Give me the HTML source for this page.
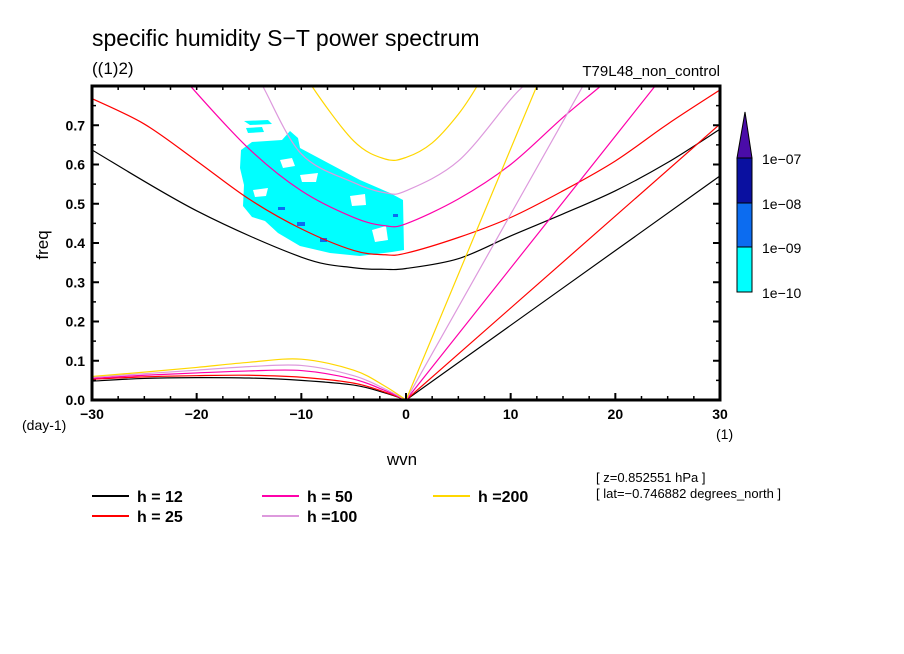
<!DOCTYPE html>
<html><head><meta charset="utf-8"><style>
html,body{margin:0;padding:0;background:#fff;}
svg{display:block;font-family:"Liberation Sans",sans-serif;}
</style></head><body>
<svg id="chart" width="904" height="654" viewBox="0 0 904 654">
<text x="92" y="46" font-size="23">specific humidity S−T power spectrum</text>
<text x="92" y="74" font-size="17">((1)2)</text>
<text x="720" y="76" font-size="15" text-anchor="end">T79L48_non_control</text>
<defs><clipPath id="pc"><rect x="92" y="86" width="628" height="314"/></clipPath></defs>
<g id="blobs" clip-path="url(#pc)">
 <polygon fill="#00ffff" points="244,121 268,120 272,124 250,125"/>
 <polygon fill="#00ffff" points="246,128 262,127 264,132 248,133"/>
 <polygon fill="#00ffff" points="241,150 252,142 282,140 290,131 298,138 300,148 330,164 360,180 390,193 403,200 404,250 392,252 360,256 330,253 300,246 278,233 265,221 252,217 243,206 244,185 240,168"/>
 <polygon fill="#fff" points="280,160 292,158 295,166 283,168"/>
 <polygon fill="#fff" points="300,175 318,173 316,182 302,182"/>
 <polygon fill="#fff" points="350,196 365,194 366,205 352,206"/>
 <polygon fill="#fff" points="253,190 268,188 266,196 255,197"/>
 <polygon fill="#fff" points="372,230 386,226 388,240 375,242"/>
 <rect x="278" y="207" width="7" height="3" fill="#0c6cf0"/>
 <rect x="297" y="222" width="8" height="4" fill="#0c6cf0"/>
 <rect x="320" y="238" width="7" height="4" fill="#0c6cf0"/>
 <rect x="393" y="214" width="5" height="3" fill="#0c6cf0"/>
</g>
<g id="curves" clip-path="url(#pc)"></g>
<g id="axes"></g>
<g id="colorbar">
 <rect x="737" y="247" width="15" height="45" fill="#00ffff" stroke="#000"/>
 <rect x="737" y="203" width="15" height="44" fill="#0c6cf0" stroke="#000"/>
 <rect x="737" y="158" width="15" height="45" fill="#0a10a0" stroke="#000"/>
 <polygon points="737,158 752,158 745,112" fill="#4a0ca8" stroke="#000"/>
 <text x="762" y="164" font-size="14">1e−07</text>
 <text x="762" y="209" font-size="14">1e−08</text>
 <text x="762" y="253" font-size="14">1e−09</text>
 <text x="762" y="298" font-size="14">1e−10</text>
</g>
<text x="22" y="430" font-size="14">(day-1)</text>
<text x="716" y="439" font-size="14">(1)</text>
<text x="402" y="465" font-size="17" text-anchor="middle">wvn</text>
<text transform="translate(48,245) rotate(-90)" font-size="17" text-anchor="middle">freq</text>
<text x="596" y="482" font-size="13">[ z=0.852551 hPa ]</text>
<text x="596" y="498" font-size="13">[ lat=−0.746882 degrees_north ]</text>
<g id="legend"></g>
</svg>
<script>
const X0=92,X1=720,Y0=400,YT=86;
function sx(w){return X0+(w+30)/60*(X1-X0);}
function sy(f){return Y0-f/0.8*(Y0-YT);}
const labels=["h = 12","h = 25","h = 50","h =100","h =200"];
const colors=["#000000","#ff0000","#ff00aa","#dd99dd","#ffd700"];
// inertio-gravity (U-shaped) curves: wavenumber samples and freq values per h
const igW=[[-30,-20,-10,-5,-2,0,5,10,15,20,25,30],
 [-30,-25,-20,-15,-10,-5,-2,0,5,10,15,20,25,30],
 [-22,-20.6,-15,-10,-5,-2,0,5,10,15,18.6,20],
 [-15,-13.7,-10,-5,-2,0,5,10,11.2,12],
 [-10,-9,-5,-2,0,2.5,5,6.8,7.5]];
const igF=[[0.637,0.482,0.364,0.337,0.333,0.335,0.36,0.418,0.474,0.533,0.605,0.69],
 [0.768,0.703,0.609,0.512,0.436,0.381,0.37,0.374,0.414,0.465,0.533,0.609,0.703,0.79],
 [0.85,0.8,0.64,0.533,0.465,0.444,0.449,0.512,0.6,0.72,0.8,0.835],
 [0.86,0.8,0.627,0.554,0.528,0.533,0.609,0.766,0.8,0.83],
 [0.86,0.8,0.66,0.614,0.618,0.655,0.728,0.8,0.84]];
// Kelvin-like lines from origin
const kW=[[0,30],[0,30],[0,26],[0,18],[0,14]];
const kF=[[0,0.571],[0,0.703],[0,0.874],[0,0.852],[0,0.896]];
// Rossby curves
const rW=[-30,-25,-20,-15,-10,-5,-2,0];
const rF=[[0.048,0.055,0.057,0.056,0.05,0.038,0.018,0],
 [0.053,0.059,0.062,0.063,0.058,0.043,0.02,0],
 [0.055,0.063,0.069,0.074,0.075,0.053,0.024,0],
 [0.058,0.067,0.076,0.085,0.088,0.062,0.028,0],
 [0.06,0.071,0.083,0.096,0.104,0.076,0.035,0]];
const NS="http://www.w3.org/2000/svg";
function mk(tag,parent,attrs){const e=document.createElementNS(NS,tag);for(const k in attrs)e.setAttribute(k,attrs[k]);parent.appendChild(e);return e;}
function spline(ws,fs){
 const p=ws.map((w,i)=>[sx(w),sy(fs[i])]);
 let d="M"+p[0][0]+","+p[0][1];
 for(let i=0;i<p.length-1;i++){
  const a=p[i-1]||p[i],b=p[i],c=p[i+1],e=p[i+2]||c;
  const c1=[b[0]+(c[0]-a[0])/6,b[1]+(c[1]-a[1])/6],c2=[c[0]-(e[0]-b[0])/6,c[1]-(e[1]-b[1])/6];
  d+=" C"+c1+" "+c2+" "+c;
 }
 return d;
}
const cg=document.getElementById("curves");
for(let i=0;i<5;i++){
 const a=mk("path",cg,{d:spline(igW[i],igF[i]),fill:"none",stroke:colors[i],"stroke-width":1.2});
 
 
 const b=mk("path",cg,{d:spline(kW[i],kF[i]),fill:"none",stroke:colors[i],"stroke-width":1.2});
 
 
 const c=mk("path",cg,{d:spline(rW,rF[i]),fill:"none",stroke:colors[i],"stroke-width":1.2});
 
 
}
const ag=document.getElementById("axes");
const fr=mk("rect",ag,{x:X0,y:YT,width:X1-X0,height:Y0-YT,fill:"none",stroke:"#000","stroke-width":3});


const yTicks=[0,0.1,0.2,0.3,0.4,0.5,0.6,0.7];
const xTicks=[-30,-20,-10,0,10,20,30];
for(let v=0.05;v<0.8;v+=0.1){
 mk("line",ag,{x1:X0,x2:X0+4,y1:sy(v),y2:sy(v),stroke:"#000","stroke-width":1.5});
 mk("line",ag,{x1:X1,x2:X1-4,y1:sy(v),y2:sy(v),stroke:"#000","stroke-width":1.5});
}
yTicks.forEach(v=>{
 mk("line",ag,{x1:X0,x2:X0+7,y1:sy(v),y2:sy(v),stroke:"#000","stroke-width":2});
 mk("line",ag,{x1:X1,x2:X1-7,y1:sy(v),y2:sy(v),stroke:"#000","stroke-width":2});
 const t=mk("text",ag,{x:X0-7,y:sy(v)+5,"font-size":14,"text-anchor":"end","font-weight":"bold"});
 t.textContent=v.toFixed(1);
 
 
});
for(let w=-27.5;w<30;w+=2.5){
 mk("line",ag,{x1:sx(w),x2:sx(w),y1:YT,y2:YT+4,stroke:"#000","stroke-width":1.5});
 mk("line",ag,{x1:sx(w),x2:sx(w),y1:Y0,y2:Y0-4,stroke:"#000","stroke-width":1.5});
}
xTicks.forEach(w=>{
 mk("line",ag,{x1:sx(w),x2:sx(w),y1:Y0,y2:Y0-7,stroke:"#000","stroke-width":2});
 const t=mk("text",ag,{x:sx(w),y:419,"font-size":14,"text-anchor":"middle","font-weight":"bold"});
 t.textContent=w<0?"−"+(-w):String(w);
 
 
});
const lg=document.getElementById("legend");
const lpos=[[92,496],[92,516],[262,496],[262,516],[433,496]];
for(let i=0;i<5;i++){
 const l=mk("line",lg,{x1:lpos[i][0],x2:lpos[i][0]+37,y1:lpos[i][1],y2:lpos[i][1],stroke:colors[i],"stroke-width":2});
 
 
 const t=mk("text",lg,{x:lpos[i][0]+45,y:lpos[i][1]+6,"font-size":16,"font-weight":"bold","xml:space":"preserve"});
 t.textContent=labels[i];
 
 
}
</script>
</body></html>
